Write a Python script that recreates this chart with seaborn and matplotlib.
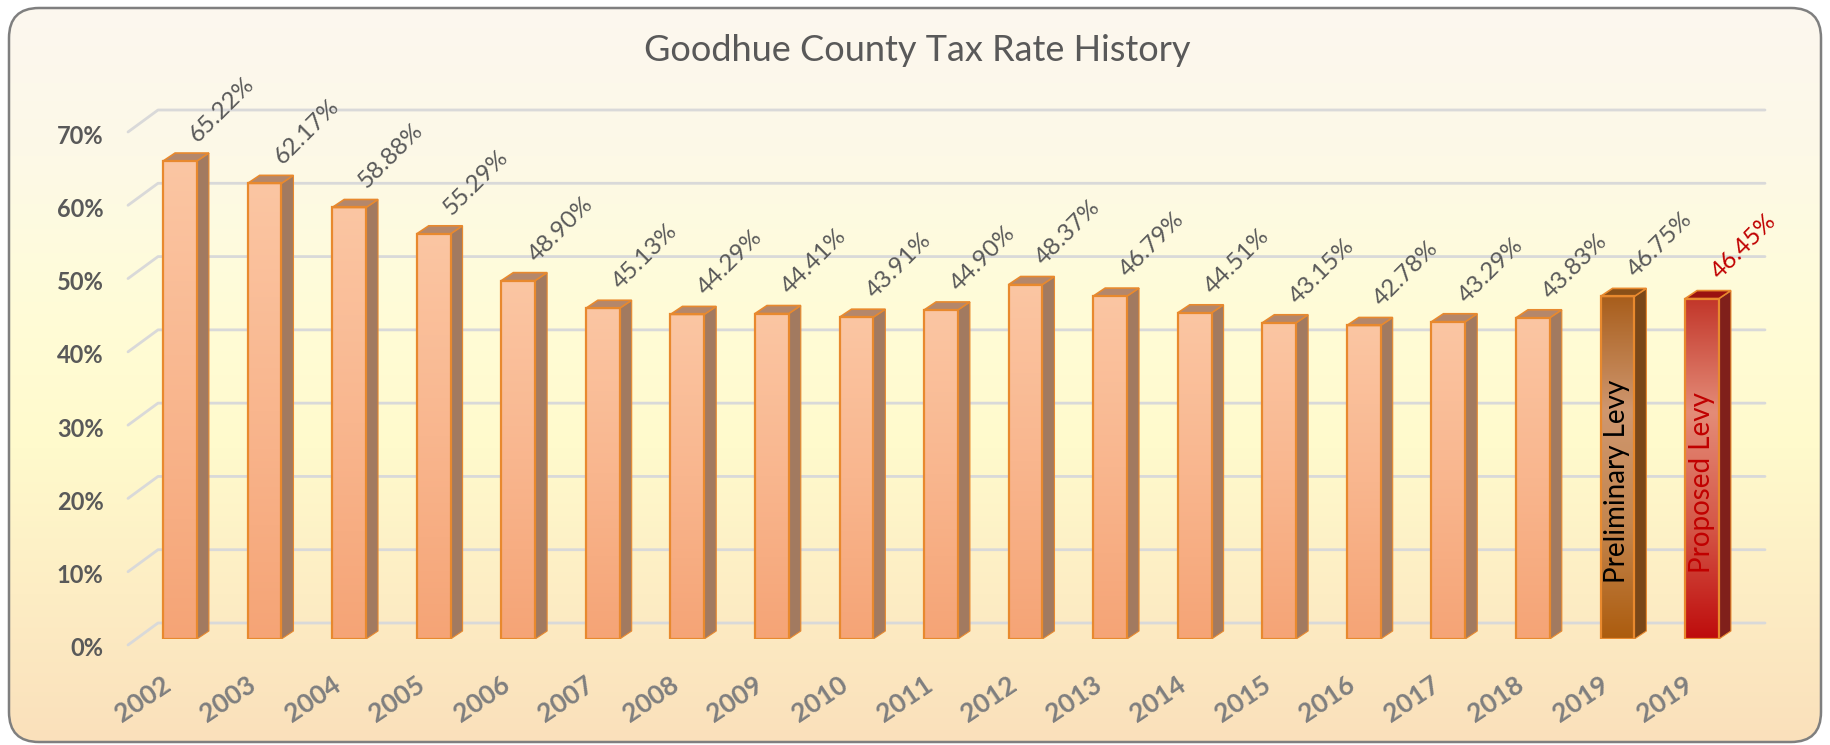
import matplotlib
matplotlib.use("Agg")
import matplotlib.pyplot as plt
import matplotlib.transforms as mtransforms
import numpy as np
import pandas as pd
import seaborn as sns
from matplotlib.colors import LinearSegmentedColormap
from matplotlib.patches import FancyBboxPatch, Polygon


YEARS = ["2002", "2003", "2004", "2005", "2006", "2007", "2008", "2009", "2010", "2011",
         "2012", "2013", "2014", "2015", "2016", "2017", "2018", "2019", "2019"]
RATES = [65.22, 62.17, 58.88, 55.29, 48.90, 45.13, 44.29, 44.41, 43.91, 44.90,
         48.37, 46.79, 44.51, 43.15, 42.78, 43.29, 43.83, 46.75, 46.45]
KINDS = ["history"] * 17 + ["preliminary", "proposed"]
INNER_TEXT = {"preliminary": "Preliminary Levy", "proposed": "Proposed Levy"}
Y_TICKS = [0, 10, 20, 30, 40, 50, 60, 70]
TITLE = "Goodhue County Tax Rate History"

W_PX, H_PX, DPI = 1830, 745, 100

# look
BASE = {"history": "#F8B48C", "preliminary": "#B86E2C", "proposed": "#C8281E"}
FACE_GRADIENT = {
    "history": ["#FBC6A3", "#F9B68E", "#F5A476"],
    "preliminary": ["#A85E1C", "#CF976F", "#C4864F", "#AC5C0E"],
    "proposed": ["#C2362A", "#E48C78", "#D55848", "#BE0C0C"],
}
SIDE = {"history": "#A27A60", "preliminary": "#7A4718", "proposed": "#80201B"}
TOP = {"history": "#B4876B", "preliminary": "#8A5018", "proposed": "#9A1210"}
EDGE = "#E8892E"
LABEL_COLOR = {"history": "#595959", "preliminary": "#595959", "proposed": "#C00000"}
INNER_COLOR = {"preliminary": "black", "proposed": "#C00000"}
BG_STOPS = ["#FCF7EF", "#FDF9E7", "#FFFCD8", "#FFFACC", "#FDEDC4", "#FAE0BB"]
DEPTH = (12, 8)          # bar depth in pixels (right, up)
GRID_BACK = (30, 16)     # back wall offset of gridlines
GRID_FRONT_DROP = 6


def main() -> None:
    sns.set_style("white")
    plt.rcParams["font.family"] = ["Lato", "DejaVu Sans"]

    df = pd.DataFrame({"slot": range(len(RATES)), "rate": RATES, "kind": KINDS})

    fig = plt.figure(figsize=(W_PX / DPI, H_PX / DPI), dpi=DPI, facecolor="white")

    # rounded panel with vertical gradient
    bg = fig.add_axes([0, 0, 1, 1], zorder=-10)
    frame = FancyBboxPatch((9, 3), W_PX - 18, H_PX - 11,
                           boxstyle="round,pad=0,rounding_size=30",
                           facecolor="none", edgecolor="#7F7F7F", lw=1.8, zorder=2)
    bg.add_patch(frame)
    grad = np.linspace(0, 1, 256).reshape(-1, 1)
    img = bg.imshow(grad, cmap=LinearSegmentedColormap.from_list("bg", BG_STOPS),
                    extent=(9, W_PX - 9, 3, H_PX - 8), aspect="auto", origin="upper", zorder=1)
    img.set_clip_path(frame)
    bg.set_xlim(0, W_PX)
    bg.set_ylim(0, H_PX)
    bg.axis("off")

    ax_left, ax_right, ax_bottom, ax_top = 128, 1735, 106, 619
    ax = fig.add_axes([ax_left / W_PX, ax_bottom / H_PX,
                       (ax_right - ax_left) / W_PX, (ax_top - ax_bottom) / H_PX])
    ax.set_facecolor("none")

    sns.barplot(data=df, x="slot", y="rate", hue="kind", palette=BASE, dodge=False,
                width=0.4, errorbar=None, legend=False, saturation=1, ax=ax)

    xlim = (-0.615, 18.39)
    ylim = (0, 70)
    ux = (ax_right - ax_left) / (xlim[1] - xlim[0])
    uy = (ax_top - ax_bottom) / (ylim[1] - ylim[0])
    ddx, ddy = DEPTH[0] / ux, DEPTH[1] / uy

    # gridlines on the back wall with the floor diagonal
    gbx, gby = GRID_BACK[0] / ux, GRID_BACK[1] / uy
    for v in Y_TICKS:
        ax.plot([xlim[0], xlim[0] + gbx, xlim[1] + gbx],
                [v - GRID_FRONT_DROP / uy, v + gby, v + gby],
                color="#D9D9D9", lw=2, clip_on=False, zorder=0.5)

    # 3d-looking bars
    for p in list(ax.patches):
        x0, w, h = p.get_x(), p.get_width(), p.get_height()
        if not np.isfinite(h) or h == 0:
            continue
        i = int(round(x0 + w / 2))
        kind = KINDS[i]
        x1 = x0 + w
        cm = LinearSegmentedColormap.from_list(f"bar{i}", FACE_GRADIENT[kind])
        im = ax.imshow(grad, cmap=cm, extent=(x0, x1, 0, h), aspect="auto",
                       origin="upper", zorder=2)
        im.set_clip_path(p)
        p.set_facecolor("none")
        p.set_edgecolor(EDGE)
        p.set_linewidth(1.6)
        p.set_zorder(3)
        side = Polygon([(x1, 0), (x1 + ddx, ddy), (x1 + ddx, h + ddy), (x1, h)],
                       closed=True, facecolor=SIDE[kind], edgecolor=EDGE, lw=0.8, zorder=2.5)
        top = Polygon([(x0, h), (x0 + ddx, h + ddy), (x1 + ddx, h + ddy), (x1, h)],
                      closed=True, facecolor=TOP[kind], edgecolor=EDGE, lw=1.2, zorder=2.6)
        ax.add_patch(side)
        ax.add_patch(top)

    for i, (v, kind) in enumerate(zip(RATES, KINDS)):
        ax.annotate(f"{v:.2f}%", xy=(i, v), xytext=(15, 11), textcoords="offset points",
                    rotation=45, rotation_mode="anchor", ha="left", va="bottom",
                    fontsize=17.5, color=LABEL_COLOR[kind], zorder=6)
        if kind in INNER_TEXT:
            ax.text(i, v * 0.46, INNER_TEXT[kind], rotation=90, ha="center", va="center",
                    fontsize=20, color=INNER_COLOR[kind], zorder=6)

    ax.set_xlim(*xlim)
    ax.set_ylim(*ylim)
    for s in ax.spines.values():
        s.set_visible(False)
    ax.set_xlabel("")
    ax.set_ylabel("")

    ax.set_xticks(range(len(YEARS)), labels=YEARS)
    ax.set_yticks(Y_TICKS, labels=[f"{v}%" for v in Y_TICKS])
    ax.tick_params(axis="x", length=0, pad=24)
    ax.tick_params(axis="y", length=0, pad=17.5)

    x_shift = mtransforms.ScaledTranslation(-18 / DPI, 0, fig.dpi_scale_trans)
    for lab in ax.get_xticklabels():
        lab.set_rotation(34)
        lab.set_rotation_mode("anchor")
        lab.set_ha("right")
        lab.set_va("top")
        lab.set_fontsize(19)
        lab.set_fontweight("bold")
        lab.set_color("#7F7F7F")
        lab.set_transform(lab.get_transform() + x_shift)

    y_shift = mtransforms.ScaledTranslation(0, -8 / DPI, fig.dpi_scale_trans)
    for lab in ax.get_yticklabels():
        lab.set_fontsize(17)
        lab.set_fontweight("bold")
        lab.set_color("#595959")
        lab.set_transform(lab.get_transform() + y_shift)

    fig.text(0.501, 0.932, TITLE, ha="center", va="center", fontsize=26, color="#595959")

    fig.savefig("out.png", dpi=DPI)
    plt.close(fig)


if __name__ == "__main__":
    main()
